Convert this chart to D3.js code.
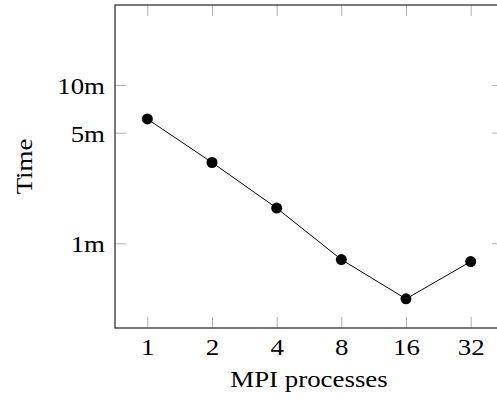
<!DOCTYPE html>
<html>
<head>
<meta charset="utf-8">
<script src="https://cdn.jsdelivr.net/npm/d3@7"></script>
<style>
  body { margin: 0; background: #fff; }
  text { font-family: "Liberation Serif", "DejaVu Serif", serif; fill: #000; }
</style>
</head>
<body>
<script>
// data: MPI process counts and run time in minutes
const procs = [1, 2, 4, 8, 16, 32];
const minutes = [6.1, 3.24, 1.67, 0.79, 0.446, 0.767];
const yTickValues = [1, 5, 10];
const yTickLabels = ['1m', '5m', '10m'];

// set dimensions
const WIDTH = 497;
const HEIGHT = 402;
const PLOT = {left: 115, right: 503, top: 5, bottom: 328};
const TICK = 11;
const FONT = 24;
const STRETCH = 1.12; // widen the serif a bit to look like computer modern

let svg = d3.select('body')
            .append('svg')
            .attr('width', WIDTH)
            .attr('height', HEIGHT);

// log2 x scale, log10 y scale
const xScale = d3.scaleLog()
                 .base(2)
                 .domain([Math.pow(2, -0.5), Math.pow(2, 5.5)])
                 .range([PLOT.left, PLOT.right]);

const yScale = d3.scaleLog()
                 .domain([0.292, 32])
                 .range([PLOT.bottom, PLOT.top]);

// helper to style ticks as light gray inner marks
function styleAxis(g) {
  g.select('.domain').remove();
  g.selectAll('.tick line').attr('stroke', '#b0b0b0').attr('stroke-width', 1);
}

// bottom axis with labels
svg.append('g')
   .attr('transform', 'translate(0,' + PLOT.bottom + ')')
   .call(d3.axisBottom(xScale).tickValues(procs).tickSize(-TICK).tickFormat(d3.format('d')))
   .call(styleAxis)
   .call(g => g.selectAll('.tick text')
               .attr('y', 0).attr('dy', 0)
               .attr('transform', 'translate(0,27) scale(' + STRETCH + ',1)')
               .style('font-size', FONT + 'px'));

// top axis, ticks only
svg.append('g')
   .attr('transform', 'translate(0,' + PLOT.top + ')')
   .call(d3.axisTop(xScale).tickValues(procs).tickSize(-TICK).tickFormat(''))
   .call(styleAxis);

// left axis with labels
svg.append('g')
   .attr('transform', 'translate(' + PLOT.left + ',0)')
   .call(d3.axisLeft(yScale).tickValues(yTickValues).tickSize(-TICK)
           .tickFormat((d, i) => yTickLabels[i]))
   .call(styleAxis)
   .call(g => g.selectAll('.tick text')
               .attr('x', 0).attr('dy', 0)
               .attr('transform', 'translate(-10,8.5) scale(' + STRETCH + ',1)')
               .style('font-size', FONT + 'px'));

// right axis, ticks only
svg.append('g')
   .attr('transform', 'translate(' + PLOT.right + ',0)')
   .call(d3.axisRight(yScale).tickValues(yTickValues).tickSize(-TICK).tickFormat(''))
   .call(styleAxis);

// frame
svg.append('rect')
   .attr('x', PLOT.left)
   .attr('y', PLOT.top)
   .attr('width', PLOT.right - PLOT.left)
   .attr('height', PLOT.bottom - PLOT.top)
   .attr('fill', 'none')
   .attr('stroke', '#222')
   .attr('stroke-width', 1.2);

// line
const line = d3.line()
               .x((d, i) => xScale(procs[i]))
               .y(d => yScale(d));

svg.append('path')
   .datum(minutes)
   .attr('d', line)
   .attr('fill', 'none')
   .attr('stroke', '#000')
   .attr('stroke-width', 1);

// markers
svg.selectAll('circle')
   .data(minutes)
   .enter()
   .append('circle')
   .attr('cx', (d, i) => xScale(procs[i]))
   .attr('cy', d => yScale(d))
   .attr('r', 5.5)
   .attr('fill', '#000');

// axis titles
svg.append('text')
   .attr('transform', 'translate(' + (PLOT.left + PLOT.right) / 2 + ',387) scale(' + STRETCH + ',1)')
   .attr('text-anchor', 'middle')
   .style('font-size', FONT + 'px')
   .text('MPI processes');

svg.append('text')
   .attr('transform', 'translate(32,' + (PLOT.top + PLOT.bottom) / 2 + ') rotate(-90) scale(' + STRETCH + ',1)')
   .attr('text-anchor', 'middle')
   .style('font-size', FONT + 'px')
   .text('Time');
</script>
</body>
</html>
